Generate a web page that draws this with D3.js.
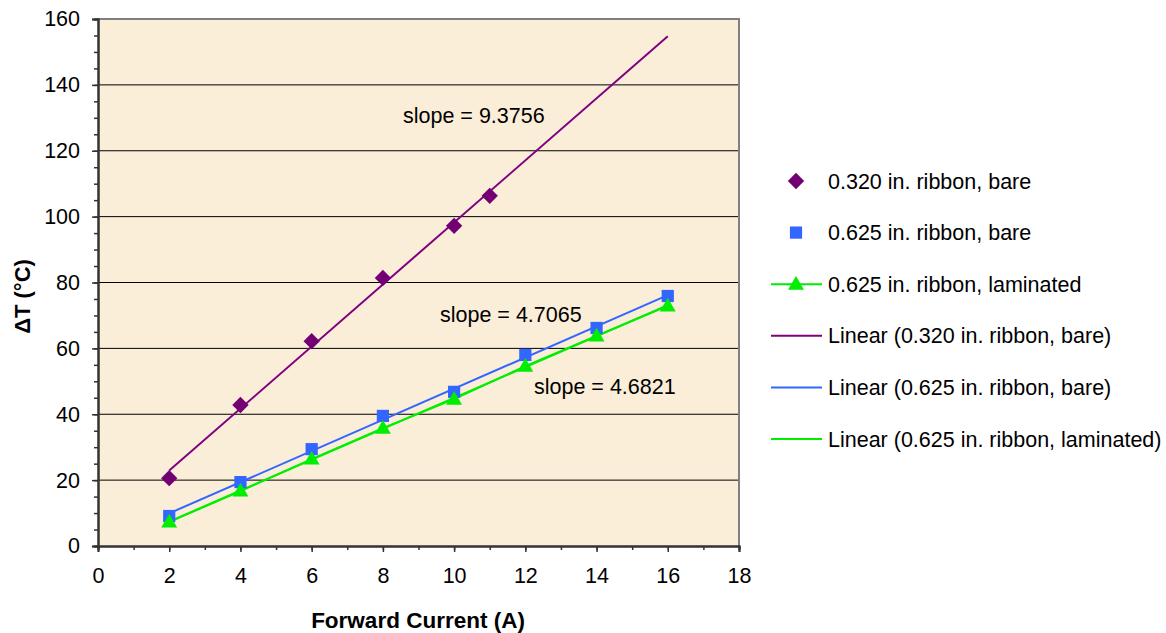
<!DOCTYPE html>
<html lang="en">
<head>
<meta charset="utf-8">
<title>Delta T vs Forward Current</title>
<script src="https://cdn.jsdelivr.net/npm/d3@7"></script>
<style>
  body { margin: 0; background: #fff; font-family: 'Liberation Sans', Arial, sans-serif; }
  text { font-family: 'Liberation Sans', Arial, sans-serif; fill: #000; }
</style>
</head>
<body>
<script>
// data
var xNarrow = [2, 4, 6, 8, 10, 11];
var yNarrow = [20.6, 42.8, 62.2, 81.4, 97.2, 106.3];
var xWide = [2, 4, 6, 8, 10, 12, 14, 16];
var yWideBare = [9.1, 19.4, 29.4, 39.5, 46.8, 58.0, 66.2, 75.9];
var yWideLam = [7.3, 16.7, 26.4, 35.8, 44.6, 54.6, 63.8, 72.9];
var trendRange = [2, 16];
var slopeLabels = ["slope = 9.3756", "slope = 4.7065", "slope = 4.6821"];
var legendLabels = ["0.320 in. ribbon, bare", "0.625 in. ribbon, bare", "0.625 in. ribbon, laminated",
  "Linear (0.320 in. ribbon, bare)", "Linear (0.625 in. ribbon, bare)", "Linear (0.625 in. ribbon, laminated)"];

var W = 1166, H = 633;
var m = {left: 98, top: 19, right: 739, bottom: 546};

var purple = "#800080", blue = "#3366ff", green = "#00ee00";
var fs = "21.5px";

var svg = d3.select("body").append("svg").attr("width", W).attr("height", H);

var x = d3.scaleLinear().domain([0, 18]).range([m.left, m.right]);
var y = d3.scaleLinear().domain([0, 160]).range([m.bottom, m.top]);

// plot background
svg.append("rect")
  .attr("x", m.left).attr("y", m.top)
  .attr("width", m.right - m.left).attr("height", m.bottom - m.top)
  .style("fill", "#fbeed8");

// gridlines
svg.append("g").selectAll("line")
  .data(d3.range(20, 160, 20))
  .enter().append("line")
  .attr("x1", m.left).attr("x2", m.right)
  .attr("y1", function(d) { return y(d); }).attr("y2", function(d) { return y(d); })
  .style("stroke", "#000").style("stroke-width", 1);

// top / right border
svg.append("path")
  .attr("d", "M" + m.left + "," + m.top + "H" + m.right + "V" + m.bottom)
  .style("fill", "none").style("stroke", "#808080").style("stroke-width", 2);

// axes
var yAxis = d3.axisLeft(y).tickValues(d3.range(0, 161, 20)).tickSize(6).tickPadding(12);
var yMinor = d3.axisLeft(y).tickValues(d3.range(0, 161, 5)).tickSize(4).tickFormat("");
var xAxis = d3.axisBottom(x).tickValues(d3.range(0, 19, 2)).tickSize(6).tickPadding(16);
var xMinor = d3.axisBottom(x).tickValues(d3.range(0, 19, 1)).tickSize(4).tickFormat("");

function styleAxis(g) {
  g.selectAll("path").style("stroke", "#333").style("stroke-width", 2);
  g.selectAll("line").style("stroke", "#333").style("stroke-width", 1.5);
  g.selectAll("text").style("font-size", fs).style("fill", "#000");
}

svg.append("g").attr("transform", "translate(" + m.left + ",0)").call(yMinor).call(styleAxis);
svg.append("g").attr("transform", "translate(" + m.left + ",0)").call(yAxis).call(styleAxis);
svg.append("g").attr("transform", "translate(0," + m.bottom + ")").call(xMinor).call(styleAxis);
svg.append("g").attr("transform", "translate(0," + m.bottom + ")").call(xAxis).call(styleAxis);

// axis titles
svg.append("text")
  .attr("transform", "translate(30," + ((m.top + m.bottom) / 2 + 14) + ") rotate(-90)")
  .attr("text-anchor", "middle")
  .style("font-size", "22px").style("font-weight", "bold")
  .text("\u0394T (\u00B0C)");

svg.append("text")
  .attr("x", 418).attr("y", 628)
  .attr("text-anchor", "middle")
  .style("font-size", "22.5px").style("font-weight", "bold")
  .text("Forward Current (A)");

// least squares fit, as the spreadsheet trendline does
function fit(xs, ys) {
  var mx = d3.mean(xs), my = d3.mean(ys);
  var sxy = d3.sum(xs, function(v, i) { return (v - mx) * (ys[i] - my); });
  var sxx = d3.sum(xs, function(v) { return (v - mx) * (v - mx); });
  var b = sxy / sxx;
  return {slope: b, icpt: my - b * mx};
}

var line = d3.line()
  .x(function(d) { return x(d[0]); })
  .y(function(d) { return y(d[1]); });

function trend(xs, ys, colour) {
  var f = fit(xs, ys);
  var pts = trendRange.map(function(v) { return [v, f.icpt + f.slope * v]; });
  svg.append("path").datum(pts)
    .attr("d", line)
    .style("fill", "none").style("stroke", colour).style("stroke-width", 2);
}

trend(xNarrow, yNarrow, purple);
trend(xWide, yWideBare, blue);

// laminated series has its own connecting line plus the trendline
svg.append("path").datum(xWide.map(function(v, i) { return [v, yWideLam[i]]; }))
  .attr("d", line)
  .style("fill", "none").style("stroke", green).style("stroke-width", 2);
trend(xWide, yWideLam, green);

var diamond = d3.symbol().type(d3.symbolDiamond2).size(170);
var square = d3.symbol().type(d3.symbolSquare2).size(190);
var triangle = d3.symbol().type(d3.symbolTriangle2).size(180);

svg.append("g").selectAll("path")
  .data(xNarrow)
  .enter().append("path")
  .attr("d", diamond)
  .attr("transform", function(d, i) { return "translate(" + x(d) + "," + y(yNarrow[i]) + ")"; })
  .style("fill", "#730073");

svg.append("g").selectAll("path")
  .data(xWide)
  .enter().append("path")
  .attr("d", square)
  .attr("transform", function(d, i) { return "translate(" + x(d) + "," + y(yWideBare[i]) + ")"; })
  .style("fill", blue);

svg.append("g").selectAll("path")
  .data(xWide)
  .enter().append("path")
  .attr("d", triangle)
  .attr("transform", function(d, i) { return "translate(" + x(d) + "," + (y(yWideLam[i]) + 1) + ")"; })
  .style("fill", "#00ee00");

// slope annotations
var slopePos = [[403, 123], [440, 322], [534, 394]];
svg.append("g").selectAll("text")
  .data(slopeLabels)
  .enter().append("text")
  .attr("x", function(d, i) { return slopePos[i][0]; })
  .attr("y", function(d, i) { return slopePos[i][1]; })
  .style("font-size", fs)
  .text(function(d) { return d; });

// legend
var lg = svg.append("g");
var rowY = d3.range(6).map(function(i) { return 181 + i * 51.6; });
var markers = [diamond, square, triangle];
var markColours = ["#730073", blue, "#00ee00"];
var lineColours = [null, null, green, purple, blue, green];

legendLabels.forEach(function(lab, i) {
  var ry = rowY[i];
  if (lineColours[i]) {
    lg.append("line")
      .attr("x1", 771).attr("x2", 822).attr("y1", ry).attr("y2", ry)
      .style("stroke", lineColours[i]).style("stroke-width", 2);
  }
  if (i < 3) {
    lg.append("path")
      .attr("d", markers[i])
      .attr("transform", "translate(796," + (ry + (i == 2 ? 1 : 0)) + ")")
      .style("fill", markColours[i]);
  }
  lg.append("text")
    .attr("x", 828).attr("y", ry + 7.5)
    .style("font-size", fs)
    .text(lab);
});
</script>
</body>
</html>
